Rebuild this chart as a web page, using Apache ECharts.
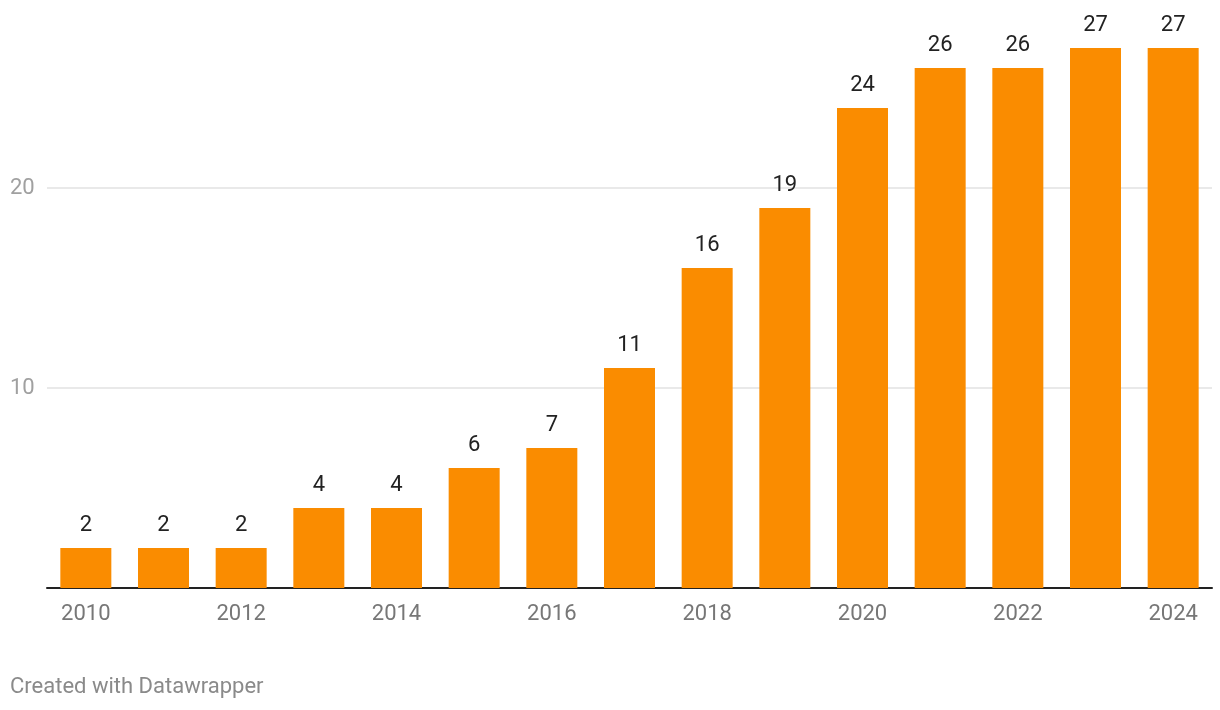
<!DOCTYPE html>
<html><head><meta charset="utf-8">
<script src="https://cdn.jsdelivr.net/npm/echarts@6/dist/echarts.min.js"></script>
<style>html,body{margin:0;padding:0;background:#fff}#c{width:1220px;height:710px}</style>
</head><body><div id="c"></div>
<script>
var years = ['2010','2011','2012','2013','2014','2015','2016','2017','2018','2019','2020','2021','2022','2023','2024'];
var values = [2,2,2,4,4,6,7,11,16,19,24,26,26,27,27];
var yTicks = [10,20];
var chart = echarts.init(document.getElementById('c'));
chart.setOption({
  animation:false,
  textStyle:{fontFamily:'Roboto'},
  grid:{left:47,right:8,top:28,bottom:122,containLabel:false},
  graphic:[{type:'text',left:10,top:676,style:{text:'Created with Datawrapper',fontFamily:'Roboto',fontSize:22,fill:'#8a8a8a'}}],
  xAxis:{type:'category',data:years,
    axisLine:{lineStyle:{color:'#222',width:2}},
    axisTick:{show:false},
    axisLabel:{interval:1,color:'#777',fontSize:22,margin:15,fontFamily:'Roboto'}},
  yAxis:{type:'value',min:0,max:28,interval:10,
    axisLine:{show:false},axisTick:{show:false},
    splitLine:{show:false},
    axisLabel:{align:'left',margin:37,color:'#a0a0a0',fontSize:22,fontFamily:'Roboto',
      formatter:function(v){return (yTicks.indexOf(v)>=0)?String(v):'';}}},
  series:[{type:'bar',data:values,barWidth:51,z:3,
    itemStyle:{color:'#fa8c00'},
    label:{show:true,position:'top',distance:12,color:'#222',fontSize:22,fontFamily:'Roboto'},
    markLine:{silent:true,symbol:'none',z:1,label:{show:false},
      lineStyle:{color:'#e2e2e2',width:1.5,type:'solid'},
      data:yTicks.map(function(t){return {yAxis:t};})}}]
});
</script></body></html>
